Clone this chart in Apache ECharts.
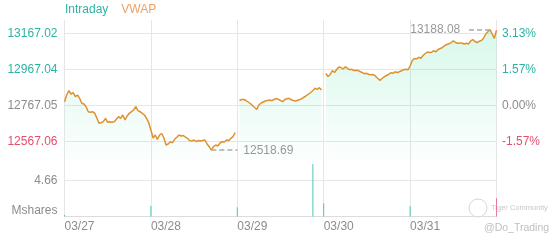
<!DOCTYPE html>
<html><head><meta charset="utf-8">
<script src="https://cdn.jsdelivr.net/npm/echarts@6/dist/echarts.min.js"></script>
<style>html,body{margin:0;padding:0;background:#fff}#c{width:560px;height:240px}</style>
</head><body><div id="c"></div>
<script>
// ---- data ----
const days = ['03/27', '03/28', '03/29', '03/30', '03/31'];
const slotsPerDay = 40;
const day1 = [12788.2, 12825.4, 12849.3, 12830.9, 12838.2, 12815.9, 12825.4, 12807.0, 12779.3, 12775.4,
  12760.4, 12732.6, 12729.3, 12732.6, 12723.7, 12695.9, 12668.2, 12671.5, 12677.1, 12695.9,
  12673.7, 12677.1, 12673.7, 12677.1, 12690.4, 12704.8, 12695.9, 12714.3, 12686.5, 12708.7,
  12723.7, 12732.6, 12742.0, 12760.4, 12738.2, 12732.6, 12723.7, 12714.3, 12695.9, 12671.5];
const day2 = [12630.9, 12586.5, 12603.2, 12579.3, 12603.2, 12611.5, 12586.5, 12547.6, 12553.2, 12565.9,
  12560.4, 12579.3, 12590.4, 12603.2, 12597.6, 12600.4, 12592.0, 12583.7, 12571.5, 12569.8,
  12575.4, 12565.9, 12572.6, 12569.8, 12572.6, 12575.4, 12553.2, 12538.2, 12518.69, 12538.2,
  12547.6, 12542.0, 12558.7, 12565.9, 12564.3, 12575.4, 12571.5, 12584.8, 12593.7, 12617.0];
const day3 = [null, 12794.8, 12800.4, 12800.4, 12794.8, 12786.5, 12778.2, 12767.1, 12755.9, 12744.8,
  12769.8, 12780.9, 12786.5, 12792.0, 12794.8, 12797.6, 12793.7, 12800.4, 12805.9, 12801.5,
  12794.8, 12788.2, 12800.4, 12804.3, 12807.0, 12798.7, 12794.8, 12792.0, 12796.5, 12800.4,
  12807.0, 12814.3, 12821.5, 12830.9, 12839.3, 12850.4, 12862.6, 12857.0, 12865.9, 12853.2];
const day4 = [null, 12944.8, 12928.2, 12939.3, 12961.5, 12950.4, 12967.0, 12980.9, 12978.2, 12969.8,
  12982.6, 12973.7, 12965.9, 12968.2, 12961.5, 12963.2, 12961.5, 12954.3, 12949.3, 12943.2,
  12945.9, 12939.3, 12937.6, 12939.3, 12929.8, 12918.2, 12905.9, 12917.0, 12926.5, 12933.7,
  12939.3, 12948.7, 12945.9, 12954.3, 12950.4, 12954.3, 12959.8, 12965.4, 12968.2, 12965.4];
const day5 = [12986.5, 13017.0, 13028.2, 13026.5, 13034.8, 13029.3, 13044.8, 13055.9, 13064.3, 13061.5,
  13063.2, 13071.5, 13065.9, 13078.2, 13083.7, 13089.3, 13099.3, 13105.9, 13109.8, 13115.9,
  13127.0, 13117.0, 13113.2, 13114.3, 13114.3, 13108.7, 13112.6, 13108.7, 13124.3, 13133.7,
  13122.6, 13117.0, 13123.7, 13128.2, 13140.4, 13164.2, 13177.0, 13188.08, 13164.2, 13140.4,
  13185.4];
const basePrice = 12767.05;
const priceTicks = [12567.06, 12767.05, 12967.04, 13167.02];
const volTicks = [0, 4.66];
const volUnit = 'Mshares';
const volumeSlots = [0, 40, 80, 115, 120, 160, 200];
const volumeValues = [0.2, 1.36, 1.19, 6.8, 1.7, 1.36, 2.36];

// ---- build ----
const priceData = [];
[day1, day2, day3, day4, day5].forEach((d, k) => d.forEach((v, j) => {
  priceData.push([k * slotsPerDay + j, v == null ? '-' : v]);
}));
const valid = priceData.filter(p => p[1] !== '-');
let minP = valid[0], maxP = valid[0];
valid.forEach(p => { if (p[1] < minP[1]) minP = p; if (p[1] > maxP[1]) maxP = p; });
const lastSlot = days.length * slotsPerDay;
const volumeData = volumeSlots.map((s, i) => [s, volumeValues[i]]);

const teal = '#2db3a3', pink = '#e2506c', grayTxt = '#8c8c8c', orange = '#e0912f';
const labelColor = v => Math.abs(v - basePrice) < 0.01 ? grayTxt : (v > basePrice ? teal : pink);
const gridLine = { lineStyle: { color: '#e6e6e6', width: 1 } };
const font = 'Arial, "Liberation Sans", sans-serif';

const chart = echarts.init(document.getElementById('c'), null, { renderer: 'canvas' });
chart.setOption({
  animation: false,
  textStyle: { fontFamily: font },
  title: {
    text: '{a|Intraday}{b|VWAP}', left: 65, top: 4, padding: 0,
    textStyle: { rich: {
      a: { color: teal, fontSize: 12, fontWeight: 'normal', fontFamily: font },
      b: { color: '#f0a060', fontSize: 12, fontWeight: 'normal', fontFamily: font, padding: [0, 0, 0, 13] }
    } }
  },
  grid: [
    { left: 64.5, right: 63.5, top: 20, height: 140 },
    { left: 64.5, right: 63.5, top: 160, bottom: 23.5 }
  ],
  xAxis: [
    { type: 'value', gridIndex: 0, min: 0, max: lastSlot, interval: slotsPerDay,
      axisLine: { show: false }, axisTick: { show: false }, axisLabel: { show: false }, splitLine: gridLine },
    { type: 'value', gridIndex: 1, min: 0, max: lastSlot, interval: slotsPerDay,
      axisLine: { lineStyle: { color: '#dcdcdc' } }, axisTick: { show: false },
      axisLabel: { align: 'left', margin: 4, color: grayTxt, fontSize: 12, showMaxLabel: false,
        formatter: v => days[Math.round(v / slotsPerDay)] || '' },
      splitLine: gridLine }
  ],
  yAxis: [
    { type: 'value', gridIndex: 0, min: 12464.29, max: 13242.03,
      axisLine: { show: false }, axisTick: { show: false, customValues: priceTicks },
      axisLabel: { customValues: priceTicks, margin: 7, fontSize: 12, color: labelColor,
        formatter: v => Number(v).toFixed(2) },
      splitLine: gridLine },
    { type: 'value', gridIndex: 0, position: 'right', min: 12464.29, max: 13242.03,
      axisLine: { show: false }, axisTick: { show: false, customValues: priceTicks },
      axisLabel: { customValues: priceTicks, margin: 5.5, fontSize: 12, color: labelColor,
        formatter: v => ((v / basePrice - 1) * 100).toFixed(2) + '%' },
      splitLine: { show: false } },
    { type: 'value', gridIndex: 1, min: 0, max: 7.31,
      axisLine: { show: false }, axisTick: { show: false, customValues: volTicks },
      axisLabel: { customValues: volTicks, margin: 7, fontSize: 12, color: grayTxt,
        formatter: v => v === 0 ? '{u|' + volUnit + '}' : Number(v).toFixed(2),
        rich: { u: { color: grayTxt, fontSize: 12, padding: [0, 0, 11, 0], fontFamily: font } } },
      splitLine: gridLine }
  ],
  series: [
    { name: 'Intraday', type: 'line', xAxisIndex: 0, yAxisIndex: 0, data: priceData,
      showSymbol: false, symbol: 'none', connectNulls: false,
      lineStyle: { color: orange, width: 1.5 },
      areaStyle: { origin: 'start', color: { type: 'linear', x: 0, y: 0, x2: 0, y2: 1,
        colorStops: [{ offset: 0, color: 'rgba(70,222,160,0.30)' }, { offset: 1, color: 'rgba(70,222,160,0.02)' }] } },
      markLine: {
        silent: true, symbol: ['none', 'none'], animation: false,
        lineStyle: { color: '#aaaaaa', type: [5, 3], width: 1.5 },
        label: { position: 'end', color: '#999', fontSize: 12, distance: 6,
          formatter: p => Number(p.value).toFixed(2) },
        data: [
          [{ coord: [minP[0], minP[1]], value: minP[1] }, { coord: [minP[0] + 12, minP[1]], value: minP[1] }],
          [{ coord: [maxP[0], maxP[1]], value: maxP[1] }, { coord: [maxP[0] - 11, maxP[1]], value: maxP[1] }]
        ]
      }
    },
    { name: 'Volume', type: 'bar', xAxisIndex: 1, yAxisIndex: 2, data: volumeData, barWidth: 1,
      itemStyle: { color: p => p.data[0] === lastSlot ? '#e77a94' : '#4cc8b8' } }
  ],
  graphic: [
    { type: 'circle', shape: { cx: 478, cy: 208, r: 9 }, style: { fill: 'none', stroke: '#d6d6d6', lineWidth: 1 }, silent: true },
    { type: 'text', x: 491, y: 208, style: { text: 'Tiger Community', fontSize: 7.5, fill: '#c8c8c8', verticalAlign: 'middle', fontFamily: font }, silent: true },
    { type: 'text', x: 484, y: 228, style: { text: '@Do_Trading', fontSize: 10.5, fill: '#c0c0c0', verticalAlign: 'middle', fontFamily: font }, silent: true }
  ]
});
</script>
</body></html>
